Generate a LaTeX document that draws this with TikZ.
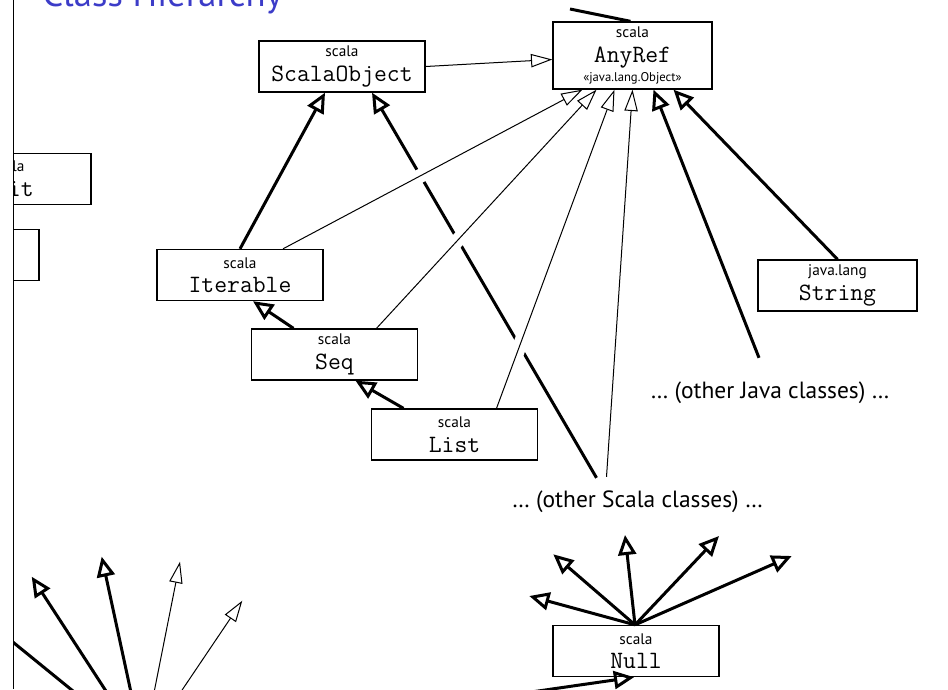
\documentclass[tikz,border=0pt]{standalone}
\usepackage{fontspec}
\usepackage{tikz}
\usetikzlibrary{arrows.meta,calc}
\newfontfamily\pkgfont{PT Sans}
\definecolor{titleblue}{RGB}{60,60,200}
\newcommand\pkg[1]{{\pkgfont\fontsize{11.5}{12}\selectfont #1}}
\newcommand\cname[1]{{\ttfamily\fontsize{18.7}{20}\selectfont #1}}
\tikzset{
  cls/.style={draw, fill=white, line width=1pt, minimum width=124.5pt, minimum height=38.25pt,
    inner sep=0pt, align=center, font=\fontsize{10.5}{18.4}\selectfont},
  heavyarrow/.style={line width=2.25pt, -{Triangle[open,length=15pt,width=13.5pt]}},
  lightarrow/.style={line width=0.75pt, -{Triangle[open,length=16pt,width=10pt]}},
  halo/.style={draw=white, line width=10.5pt},
  note/.style={font=\pkgfont\fontsize{17.6}{20}\selectfont, inner sep=0pt},
}

\begin{document}
\begin{tikzpicture}[x=0.75pt,y=0.75pt,yscale=-1,xscale=1]
    \useasboundingbox (0,0) rectangle (948,689);
    %Straight Lines: frame edge
    \draw[line width=0.75pt] (13.5,0) -- (13.5,689);
    \clip (14,0) rectangle (948,689);

    % Text Node
    \node[anchor=base west, inner sep=0pt, text=titleblue, font=\pkgfont\fontsize{27.5}{30}\selectfont] (title) at (42,6) {Class Hierarchy};

    %Shape: Rectangle
    \node[cls] (scalaobject) at (342,66.5) {\pkg{scala}\\\cname{ScalaObject}};
    %Shape: Rectangle
    \node[cls, minimum width=119.25pt, minimum height=50.25pt] (anyref) at (632.5,55.5)
        {\pkg{scala}\\\cname{AnyRef}\\[-4pt]{\pkgfont\fontsize{9.5}{12}\selectfont «java.lang.Object»}};
    %Shape: Rectangle
    \node[cls] (iterable) at (240,275) {\pkg{scala}\\\cname{Iterable}};
    %Shape: Rectangle
    \node[cls] (seq) at (334.5,354.5) {\pkg{scala}\\\cname{Seq}};
    %Shape: Rectangle
    \node[cls] (list) at (454.5,434.5) {\pkg{scala}\\\cname{List}};
    %Shape: Rectangle
    \node[cls, minimum width=119.25pt] (string) at (837.5,285.5) {\pkg{java.lang}\\\cname{String}};
    %Shape: Rectangle
    \node[cls] (null) at (636,651) {\pkg{scala}\\\cname{Null}};
    %Shape: Rectangle
    \node[cls] (unit) at (8,179) {\pkg{scala}\\\cname{Unit}};
    %Shape: Rectangle
    \node[cls] (leftbox) at (-44,255) {};

    % Text Node
    \node[note] (ojava) at (770,393) {… (other Java classes) …};
    % Text Node
    \node[note] (oscala) at (637.5,502) {… (other Scala classes) …};

    % free ends
    \coordinate (nothing) at (143,748);
    \coordinate (anytop) at (570,9);
    \coordinate (offleft) at (-40,599);
    \coordinate (jv) at ($(ojava.north)+(-11,-24)$);
    \coordinate (sca) at ($(oscala.north)+(-41,-13)$);
    \coordinate (scb) at ($(oscala.north)+(-31,-14)$);
    \coordinate (nt1) at (529.3,596);
    \coordinate (nt2) at (553.3,554.3);
    \coordinate (nt3) at (625,535);
    \coordinate (nt4) at (719,536);
    \coordinate (nt5) at (791.7,556);
    \coordinate (bt1) at (31.7,576.7);
    \coordinate (bt2) at (101.7,556.7);
    \coordinate (bt3) at (180,561.7);
    \coordinate (bt4) at (242.3,600.7);

    %Straight Lines: heavy
    \draw[line width=2.25pt] (anyref.north) ++(-2,0) -- (anytop);
    \draw[heavyarrow] (iterable.north) -- ($(scalaobject.south)+(-17,0)$);
    \draw[heavyarrow] (sca) -- ($(scalaobject.south)+(30,0)$);
    \draw[heavyarrow] ($(seq.north)+(-41,0)$) -- ($(iterable.south)+(13,0)$);
    \draw[heavyarrow] ($(list.north)+(-51,0)$) -- ($(seq.south)+(21,0)$);
    \draw[heavyarrow] (jv) -- ($(anyref.south)+(21,0)$);
    \draw[heavyarrow] (string.north) -- ($(anyref.south)+(41,0)$);

    %Straight Lines: gaps in the heavy line
    \draw[halo, shorten <=75pt, shorten >=90pt] ($(iterable.north)+(43,0)$) -- ($(anyref.south)+(-50,0)$);
    \draw[halo, shorten <=60pt, shorten >=120pt] ($(seq.north)+(42,0)$) -- ($(anyref.south)+(-36,0)$);
    \draw[halo, shorten <=30pt, shorten >=160pt] ($(list.north)+(42,0)$) -- ($(anyref.south)+(-18,0)$);

    %Straight Lines: light
    \draw[lightarrow] (scalaobject.east) -- ($(anyref.west)+(0,4)$);
    \draw[lightarrow] ($(iterable.north)+(43,0)$) -- ($(anyref.south)+(-50,0)$);
    \draw[lightarrow] ($(seq.north)+(42,0)$) -- ($(anyref.south)+(-36,0)$);
    \draw[lightarrow] ($(list.north)+(42,0)$) -- ($(anyref.south)+(-18,0)$);
    \draw[lightarrow] (scb) -- (anyref.south);

    %Straight Lines: from Null
    \foreach \t in {nt1,nt2,nt3,nt4,nt5}
        \draw[heavyarrow] ($(null.north)+(-1,0)$) -- (\t);

    %Straight Lines: from Nothing
    \draw[line width=2.25pt] (nothing) -- (offleft);
    \foreach \t in {bt1,bt2}
        \draw[heavyarrow] (nothing) -- (\t);
    \foreach \t in {bt3,bt4}
        \draw[lightarrow] (nothing) -- (\t);
    \draw[heavyarrow] (nothing) -- ($(null.south)+(-2,0)$);

\end{tikzpicture}
\end{document}
